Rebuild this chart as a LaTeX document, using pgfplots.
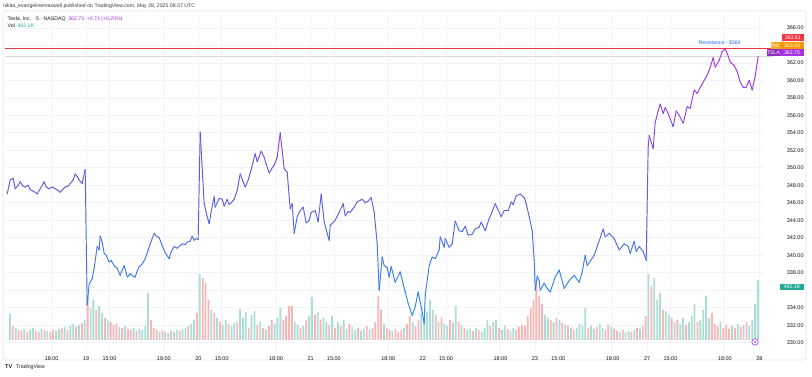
\documentclass[border=0pt]{standalone}
\usepackage{pgfplots}
\usepackage{pgfplotstable}
\pgfplotsset{compat=1.18}
\usepackage{fontspec}
\setmainfont{Liberation Sans}
\definecolor{tvgrid}{RGB}{240,243,250}
\definecolor{tvframe}{RGB}{224,227,235}
\definecolor{tvtext}{RGB}{19,23,34}
\definecolor{tvred}{RGB}{242,54,69}
\definecolor{tvorange}{RGB}{255,152,0}
\definecolor{tvpurple}{RGB}{166,52,224}
\definecolor{tvgreen}{RGB}{34,171,148}
\definecolor{tvblue}{RGB}{41,98,255}
\definecolor{volup}{RGB}{172,221,212}
\definecolor{voldn}{RGB}{249,182,182}
\newcommand\tvf{\fontsize{5.2}{6}\selectfont}
\newcommand\tvt{\fontsize{5.5}{6}\selectfont}

% price: px = horizontal position on the original chart (time), p = price
\pgfplotstableread{
px p
5 347.0
8 348.6
11 348.8
13 347.6
16 348.0
18 348.4
21 347.9
23 347.8
26 348.0
28 347.5
30 347.4
33 347.2
35 347.0
38 347.6
42 348.4
44 347.8
47 347.6
50 347.8
53 347.6
56 347.4
58 347.2
61 347.6
63 347.8
66 347.9
68 348.2
71 348.6
73 349.3
75 349.0
77 348.6
80 348.2
83 349.8
85 334.3
87 336.7
90 337.3
92 338.5
95 341.0
97 340.6
98 342.2
100 341.5
102 340.2
104 340.0
107 339.2
109 339.4
112 338.8
115 338.5
118 337.7
120 338.3
122 338.8
124 338.0
125 337.5
127 337.7
128 337.9
131 337.6
133 337.5
135 338.2
137 338.7
140 339.0
143 339.6
146 340.6
149 341.6
152 342.5
154 342.2
157 342.0
160 341.1
163 340.3
167 339.6
169 340.4
172 341.0
175 340.8
178 341.1
180 341.3
183 341.2
185 341.5
188 341.6
190 342.2
192 341.7
194 341.9
196 341.8
198 354.1
202 345.9
205 344.4
207 343.6
209 345.0
212 346.7
213 345.5
217 346.5
220 346.4
222 345.6
225 346.4
227 345.8
229 346.0
232 346.4
235 347.4
238 349.3
241 348.4
243 347.8
246 348.6
249 349.8
253 351.6
255 350.7
259 351.9
262 351.2
264 350.4
267 349.4
270 350.0
272 350.3
275 351.2
278 354.0
282 349.9
285 349.5
288 345.3
290 345.9
292 342.5
295 344.4
298 345.1
301 345.5
304 343.7
307 344.0
309 344.9
313 345.1
316 343.8
319 347.0
322 343.8
325 342.5
327 341.7
328 343.4
333 344.0
337 344.9
341 345.9
343 344.5
346 345.0
348 344.9
352 345.5
355 346.1
360 346.4
363 346.0
366 346.2
369 346.6
372 344.9
375 341.3
377 336.0
380 339.8
382 338.8
385 338.6
387 337.5
389 338.7
393 336.9
398 338.1
403 335.8
406 334.5
410 333.1
413 334.1
416 335.8
419 334.1
422 332.2
423 335.4
427 338.8
430 339.8
433 339.6
437 340.6
438 342.1
442 340.9
443 341.9
447 340.9
450 341.3
453 343.9
457 342.8
460 342.7
463 343.3
466 342.3
470 342.4
473 343.0
477 343.2
479 343.8
483 342.8
487 344.2
490 345.0
493 345.9
497 344.9
499 344.4
502 345.1
506 345.1
509 346.1
511 345.8
514 346.8
518 347.0
522 346.6
524 345.9
527 344.4
530 342.8
532 339.4
533 336.0
535 337.6
537 337.1
538 336.0
542 336.8
545 336.2
548 335.8
553 337.5
557 338.3
562 336.2
567 337.1
572 337.7
577 336.9
580 338.1
583 340.0
585 338.8
592 340.0
595 341.0
601 343.0
603 342.1
607 342.5
612 341.9
617 340.6
622 341.3
626 341.0
628 340.2
632 341.6
634 340.4
637 341.0
641 340.4
644 339.4
646 352.4
647 353.7
651 352.2
653 355.2
656 356.5
658 357.3
661 356.2
663 356.9
666 356.2
668 355.6
671 354.7
674 356.5
677 356.0
681 355.1
685 357.0
688 356.8
692 358.9
695 358.5
700 359.6
705 360.6
708 361.5
711 362.6
713 361.5
717 362.3
720 363.3
723 363.6
725 363.1
728 362.1
732 361.7
735 361.0
738 359.8
741 359.2
744 359.2
747 360.0
750 358.9
753 360.5
756 362.75
}\pricetable

% volume in K per bar (10-minute steps); negative = down bar (red)
\pgfplotstableread{
v
208
-112
96
-80
-72
88
-64
80
96
-72
-64
88
-80
72
-64
-80
72
88
-96
104
-80
112
128
-104
120
-136
160
-352
256
320
-240
272
216
-176
160
-144
-120
-128
104
-96
112
-88
-80
96
-72
88
80
112
376
-160
-96
-80
64
-72
64
56
-72
64
80
-72
88
96
-112
128
160
-216
528
-496
-456
-320
240
-216
176
-144
120
160
-128
112
136
-144
248
176
224
-96
200
232
-120
144
-96
80
-112
-160
128
176
256
-160
-192
-272
-272
144
120
-96
112
-160
192
344
-200
216
-160
176
144
-120
192
-96
144
-112
160
88
-128
104
80
-96
72
88
-112
80
-96
-144
-352
-240
128
-96
-80
72
-88
-64
-80
96
-128
-192
144
-112
-160
216
176
224
320
240
-200
144
-176
128
112
-160
136
272
-144
120
-96
80
88
-72
96
-80
64
96
160
-112
144
160
-96
80
112
-88
72
96
-80
-104
-120
-112
-192
-256
-320
-480
-352
-288
200
176
-160
144
-176
160
-136
120
-112
96
-80
96
128
112
256
-96
112
88
-104
128
96
-80
-120
104
-88
-72
64
-80
56
72
-64
80
-96
88
-112
-192
528
-432
496
320
376
-240
232
200
-176
144
-160
128
176
-120
144
192
288
-144
160
240
352
176
-216
-128
-112
144
-96
-120
-88
112
-96
128
-104
120
-144
112
160
288
480
}\voltable

\pgfplotsset{
  tvbase/.style={
    at={(3,29)}, anchor=south west,
    width=759pt, height=336pt, scale only axis,
    xmin=-4.693, xmax=39.28,
  },
}

\begin{document}
\begin{tikzpicture}[x=1pt,y=1pt]
\path[use as bounding box] (0,0) rectangle (812,376);
\draw[tvframe, line width=0.6pt, rounded corners=2pt] (3,16) rectangle (806,365);

% grid and ticks
\begin{axis}[tvbase,
  ymin=329.08, ymax=367.52,
  axis line style={draw=none},
  major tick length=0pt,
  grid=major, major grid style={tvgrid, line width=0.7pt},
  xtick={-2,0,1.35,4.5,6.5,7.85,11,13,14.35,17.5,19.5,20.85,24,26,27.35,30.5,32.5,33.85,37,39},
  xticklabels={18:00,19,15:00,18:00,20,15:00,18:00,21,15:00,18:00,22,15:00,18:00,23,15:00,18:00,27,15:00,18:00,28},
  ytick={330,332,...,366},
  yticklabels={330.00,332.00,334.00,,338.00,340.00,342.00,344.00,346.00,348.00,350.00,352.00,354.00,356.00,358.00,360.00,362.00,,366.00},
  yticklabel pos=right,
  yticklabel style={anchor=center, xshift=31pt, font=\tvt, text=tvtext},
  xticklabel style={anchor=center, yshift=-7.7pt, font=\tvt, text=tvtext},
]
\addplot[draw=none] coordinates {(0,340)};
\end{axis}

% volume
\begin{axis}[tvbase, ymin=0, ymax=2688, hide axis]
\addplot[ybar, bar width=1.8pt, bar shift=0pt, draw=none, fill=volup]
  table[x index=0, y index=0, x expr={-4.4167+\coordindex/6}, y expr={max(\thisrow{v},0)}] {\voltable};
\addplot[ybar, bar width=1.8pt, bar shift=0pt, draw=none, fill=voldn]
  table[x index=0, y index=0, x expr={-4.4167+\coordindex/6}, y expr={max(-\thisrow{v},0)}] {\voltable};
\end{axis}

% price line and levels
\begin{axis}[tvbase, ymin=329.08, ymax=367.52, hide axis, clip=false,
  colormap={tvline}{rgb255=(40,138,236) rgb255=(105,86,222) rgb255=(172,50,232)},
  point meta min=334, point meta max=363]
\addplot[draw=gray!30, line width=0.4pt] coordinates {(-4.693,362.75) (39.79,362.75)};
\addplot[draw=tvred, line width=0.8pt] coordinates {(-4.693,363.61) (40.35,363.61)};
\addplot[mesh, point meta=y, line width=0.95pt, line cap=round, line join=round]
  table[x expr={(\thisrow{px}-84)/17.26}, y=p] {\pricetable};
\node[anchor=south, text=tvblue, font=\tvf, inner sep=1pt] at (axis cs:36.7,363.9) {Resistance - \$364};
\end{axis}

% right-hand price boxes
\node[fill=tvred, text=white, font=\tvf, minimum width=22.5pt, minimum height=6.8pt, inner sep=0pt] at (792.9,338.3) {363.61};
\node[fill=tvorange!85, text=white, font=\tvf, minimum width=9.5pt, minimum height=6.8pt, inner sep=0pt] at (775.3,330.3) {Pre};
\node[fill=tvorange, text=white, font=\tvf, minimum width=24pt, minimum height=6.8pt, inner sep=0pt] at (792,330.3) {363.43};
\node[fill=tvpurple!85!black, text=white, font=\tvf, minimum width=13.5pt, minimum height=6.8pt, inner sep=0pt] at (773.3,323.3) {TSLA};
\node[fill=tvpurple, text=white, font=\tvf, minimum width=24pt, minimum height=6.8pt, inner sep=0pt] at (792,323.3) {362.75};
\node[fill=tvgreen, text=white, font=\tvf, minimum width=24pt, minimum height=6.8pt, inner sep=0pt] at (792,89) {482.1K};

% event marker
\draw[tvpurple, fill=white, line width=0.6pt] (755,34) circle (3.2);
\fill[tvpurple] (755,34) circle (1);

% header and legend
\node[anchor=west, font=\tvf, text=tvtext!85, inner sep=0pt] at (3,370.3) {nikita\_evangelinemaxwell published on TradingView.com, May 28, 2025 08:37 UTC};
\node[anchor=west, font=\tvf, text=tvtext, inner sep=0pt] at (7.5,357) {Tesla, Inc. · 5 · NASDAQ\enspace\textcolor{tvpurple}{362.75\enspace +0.71 (+0.20\%)}};
\node[anchor=west, font=\tvf, text=tvtext, inner sep=0pt] at (7.5,350.5) {Vol\enspace\textcolor{tvgreen}{482.1K}};

% logo
\node[anchor=west, font=\fontsize{5.5}{6}\selectfont\bfseries, text=tvtext, inner sep=0pt] at (5,9) {TV};
\node[anchor=west, font=\tvf, text=tvtext, inner sep=0pt] at (16,9) {TradingView};
\end{tikzpicture}
\end{document}
